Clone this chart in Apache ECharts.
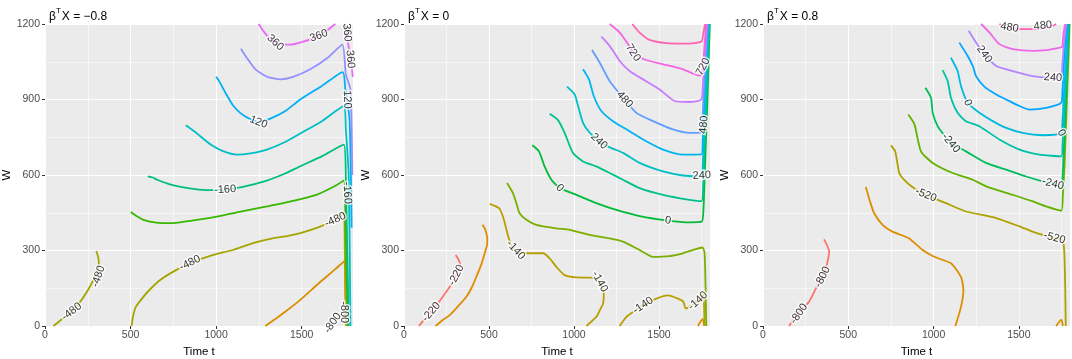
<!DOCTYPE html>
<html><head><meta charset="utf-8">
<script src="https://cdn.jsdelivr.net/npm/echarts/dist/echarts.min.js"></script>
<style>html,body{margin:0;padding:0;background:#fff}#c{width:1072px;height:359px}</style>
</head><body><div id="c"></div>
<script>
// ---------- data ----------
const xTickValues = [0, 500, 1000, 1500];
const panelTitles = ['−0.8', '0', '0.8'];

// Panel 1 (beta'X = -0.8)
const p1Colors = ['#A3A500','#D89000','#A3A500','#39B600','#00BF7D','#00BFC4','#00B0F6','#9590FF','#E76BF3','#E76BF3'];
const p1Lines = [
  [[49,0],[100,28],[156,57],[210,100],[263,157],[295,200],[315,240],[312,270],[300,298]],
  [[1287,0],[1400,55],[1492,104],[1600,170],[1700,228],[1750,258],[1754,130],[1758,0]],
  [[507,0],[512,30],[530,75],[575,116],[620,150],[673,183],[760,220],[848,250],[970,280],[1102,303],[1220,330],[1336,349],[1420,358],[1492,369],[1600,393],[1697,422],[1746,448],[1752,300],[1763,0]],
  [[501,453],[540,435],[575,422],[650,411],[751,409],[850,418],[1004,435],[1150,455],[1297,475],[1450,497],[1590,522],[1700,558],[1746,578],[1755,450],[1769,0]],
  [[601,595],[630,590],[653,582],[720,565],[800,552],[900,542],[1000,540],[1053,542],[1150,552],[1297,578],[1400,605],[1492,635],[1620,675],[1746,721],[1757,620],[1775,0]],
  [[823,798],[870,775],[907,754],[970,720],[1040,695],[1121,681],[1200,686],[1297,701],[1400,730],[1500,768],[1620,815],[1746,874],[1758,780],[1775,600],[1785,0]],
  [[1000,990],[1020,970],[1060,920],[1100,875],[1141,847],[1190,825],[1248,810],[1320,825],[1400,852],[1492,900],[1620,955],[1740,1009],[1755,940],[1780,820],[1792,390]],
  [[1145,1102],[1180,1065],[1230,1020],[1300,990],[1375,980],[1450,990],[1550,1020],[1650,1065],[1738,1118],[1758,1000],[1785,940],[1796,600]],
  [[1248,1200],[1290,1160],[1346,1126],[1400,1118],[1434,1118],[1500,1128],[1600,1153],[1660,1180],[1697,1200]],
  [[1752,1200],[1760,1165],[1772,1120],[1787,1060],[1799,990]]
];
const p1Labels = [
  [1346,1126,'360'],[1600,1153,'360'],[1765,1166,'360',-85],[1784,1060,'360',-85],
  [1248,810,'120'],[1766,900,'120',-87],
  [1053,542,'-160'],[1766,529,'-160',-87],
  [848,250,'-480'],[1697,422,'-480'],[312,197,'-480'],[156,57,'-480'],
  [1749,55,'-800',-90],[1682,12,'-800',55]
];

// Panel 2 (beta'X = 0)
const p2Colors = ['#F8766D','#DE8C00','#DE8C00','#B79F00','#B79F00','#7CAE00','#00BA38','#00C08B','#00BFC4','#00B4F0','#619CFF','#C77CFF','#F564E3','#FF64B0'];
const p2Lines = [
  [[88,0],[131,36],[190,82],[249,136],[288,176],[310,205],[331,242],[320,265],[304,282]],
  [[186,0],[230,25],[269,43],[320,80],[367,116],[400,155],[426,196],[455,245],[475,289],[488,320],[490,348],[482,375],[475,388],[461,402]],
  [[1729,0],[1757,28],[1766,0]],
  [[504,485],[559,468],[582,435],[600,390],[622,335],[640,310],[661,295],[720,289],[818,289],[857,269],[896,235],[945,202],[1014,193],[1092,192],[1140,185],[1165,155],[1175,129],[1171,89],[1150,60],[1131,36],[1073,0]],
  [[1269,0],[1308,36],[1347,56],[1406,82],[1484,109],[1553,122],[1612,109],[1643,97],[1657,70],[1690,80],[1730,104],[1760,125],[1766,60],[1768,0]],
  [[606,568],[641,528],[660,490],[680,448],[720,422],[778,402],[896,388],[975,382],[1092,362],[1210,348],[1288,335],[1386,302],[1465,275],[1563,278],[1641,289],[1755,312],[1768,290],[1774,150],[1778,0]],
  [[755,718],[794,694],[827,634],[867,581],[916,548],[1014,521],[1131,488],[1249,461],[1386,437],[1553,419],[1680,412],[1752,415],[1762,470],[1770,620],[1785,900],[1799,1200]],
  [[857,843],[906,818],[945,767],[994,687],[1053,654],[1131,634],[1210,608],[1288,581],[1386,548],[1524,521],[1680,501],[1750,496],[1760,560],[1768,700],[1782,950],[1796,1200]],
  [[959,951],[1004,920],[1024,874],[1053,807],[1090,770],[1147,734],[1210,710],[1288,688],[1386,648],[1524,614],[1641,598],[1750,594],[1758,650],[1766,780],[1780,1000],[1793,1200]],
  [[1053,1020],[1088,980],[1116,914],[1161,854],[1229,814],[1327,774],[1425,734],[1524,701],[1641,681],[1750,682],[1757,740],[1765,860],[1778,1040],[1790,1200]],
  [[1106,1097],[1151,1047],[1210,973],[1288,907],[1367,847],[1465,814],[1582,781],[1680,767],[1745,768],[1755,820],[1763,920],[1774,1060],[1786,1200]],
  [[1161,1150],[1210,1113],[1269,1053],[1327,1013],[1406,980],[1504,940],[1592,894],[1680,890],[1749,900],[1757,950],[1765,1040],[1782,1200]],
  [[1210,1200],[1269,1166],[1318,1120],[1357,1080],[1425,1057],[1524,1040],[1641,1020],[1739,995],[1752,1000],[1762,1060],[1777,1200]],
  [[1343,1200],[1386,1166],[1445,1137],[1543,1124],[1661,1122],[1749,1130],[1760,1160],[1771,1200]]
];
const p2Labels = [
  [161,56,'-220'],[308,202,'-220'],
  [657,302,'-140'],[1151,176,'-140'],[1406,82,'-140'],[1729,100,'-140'],
  [916,548,'0'],[1553,419,'0'],
  [1147,734,'240'],[1752,598,'240',3],
  [1298,900,'480'],[1763,800,'480',85],
  [1347,1086,'720'],[1759,1030,'720',62]
];

// Panel 3 (beta'X = 0.8)
const p3Colors = ['#F8766D','#DB8E00','#DB8E00','#AEA200','#64B200','#00BD5C','#00C1A7','#00BADE','#00A6FF','#B385FF','#EF67EB','#FF63B6'];
const p3Lines = [
  [[153,0],[212,56],[270,96],[329,176],[368,229],[388,295],[358,344]],
  [[603,552],[625,500],[652,448],[701,402],[759,375],[857,348],[936,302],[1004,275],[1102,249],[1161,195],[1175,142],[1161,76],[1128,0]],
  [[1719,0],[1749,25],[1758,0]],
  [[750,718],[775,694],[799,608],[828,581],[880,550],[953,521],[1073,488],[1190,455],[1367,429],[1504,396],[1600,370],[1709,350],[1755,340],[1766,300],[1772,150],[1775,0]],
  [[852,840],[888,801],[926,694],[995,648],[1112,608],[1230,581],[1308,555],[1465,521],[1582,495],[1660,475],[1749,458],[1758,520],[1768,640],[1782,900],[1798,1200]],
  [[952,947],[985,907],[995,847],[1024,794],[1060,760],[1102,727],[1190,694],[1308,648],[1426,621],[1543,594],[1640,575],[1700,565],[1749,548],[1757,600],[1765,720],[1780,960],[1795,1200]],
  [[1053,1017],[1083,973],[1102,907],[1141,847],[1190,814],[1269,794],[1386,741],[1504,701],[1621,681],[1749,674],[1756,720],[1764,820],[1778,1000],[1792,1200]],
  [[1102,1066],[1141,1013],[1161,953],[1200,887],[1269,847],[1347,814],[1426,787],[1523,767],[1641,758],[1749,767],[1756,820],[1764,914],[1775,1060],[1788,1200]],
  [[1151,1126],[1200,1073],[1230,1033],[1249,993],[1298,951],[1367,920],[1426,900],[1504,874],[1563,860],[1660,867],[1749,887],[1756,940],[1763,1033],[1773,1130],[1784,1200]],
  [[1206,1173],[1249,1126],[1298,1080],[1367,1033],[1465,1013],[1582,993],[1700,987],[1749,1000],[1756,1050],[1766,1130],[1779,1200]],
  [[1279,1200],[1328,1166],[1386,1120],[1465,1100],[1582,1093],[1660,1096],[1739,1106],[1754,1110],[1762,1160],[1772,1200]],
  [[1386,1200],[1430,1186],[1465,1182],[1582,1180],[1650,1185],[1700,1193],[1719,1200]]
];
const p3Labels = [
  [211,49,'-800'],[349,195,'-800'],
  [955,521,'-520'],[1709,350,'-520'],
  [1102,727,'-240'],[1700,565,'-240'],
  [1200,887,'0'],[1749,767,'0',-60],
  [1298,1080,'240'],[1700,987,'240'],
  [1445,1186,'480'],[1641,1193,'480']
];

// ---------- chart ----------
const FONT = '"Liberation Sans", Arial, Helvetica, sans-serif';
const panels = [
  {colors: p1Colors, lines: p1Lines, labels: p1Labels, title: panelTitles[0]},
  {colors: p2Colors, lines: p2Lines, labels: p2Labels, title: panelTitles[1]},
  {colors: p3Colors, lines: p3Lines, labels: p3Labels, title: panelTitles[2]}
];
const gridPos = [{left: 45, width: 308}, {left: 404, width: 306}, {left: 763, width: 307}];
const GRID_TOP = 24, GRID_H = 302;
const plain = v => String(v);

const chart = echarts.init(document.getElementById('c'), null, {renderer: 'canvas'});

const mainX = gridPos.map((g, i) => ({
  type: 'value', gridIndex: i, min: 0, max: 1800, interval: 500, position: 'bottom',
  name: 'Time t', nameLocation: 'middle', nameGap: 13,
  nameTextStyle: {color: '#000', fontSize: 11.5, fontFamily: FONT},
  axisLine: {show: false},
  axisTick: {show: true, length: 3, customValues: xTickValues, lineStyle: {color: '#333333', width: 1}},
  axisLabel: {color: '#4D4D4D', fontSize: 10.5, fontFamily: FONT, margin: 4, customValues: xTickValues, formatter: plain},
  splitLine: {show: true, showMaxLine: false, lineStyle: {color: '#FFFFFF', width: 1.1}}
}));
const minorX = gridPos.map((g, i) => ({
  type: 'value', gridIndex: i, min: 0, max: 1800, interval: 250, position: 'top',
  axisLine: {show: false}, axisTick: {show: false}, axisLabel: {show: false},
  splitLine: {show: true, showMaxLine: false, lineStyle: {color: '#FFFFFF', width: 0.55}}
}));
const yAxes = gridPos.map((g, i) => ({
  type: 'value', gridIndex: i, min: 0, max: 1200, interval: 300,
  name: 'W', nameLocation: 'middle', nameGap: 31,
  nameTextStyle: {color: '#000', fontSize: 11.5, fontFamily: FONT},
  axisLine: {show: false},
  axisTick: {show: true, length: 3, lineStyle: {color: '#333333', width: 1}},
  axisLabel: {color: '#4D4D4D', fontSize: 10.5, fontFamily: FONT, margin: 5, formatter: plain},
  splitLine: {show: true, lineStyle: {color: '#FFFFFF', width: 1.1}},
  minorTick: {show: false, splitNumber: 2},
  minorSplitLine: {show: true, lineStyle: {color: '#FFFFFF', width: 0.55}}
}));

const series = [];
panels.forEach((p, i) => {
  p.lines.forEach((ln, k) => {
    series.push({
      type: 'line', xAxisIndex: i, yAxisIndex: i, data: ln,
      showSymbol: false, symbol: 'none', smooth: 0.2, silent: true, clip: true,
      lineStyle: {color: p.colors[k], width: 1.8}, z: 2
    });
  });
  series.push({
    id: 'lab' + i, type: 'scatter', xAxisIndex: i, yAxisIndex: i,
    symbolSize: 1, itemStyle: {color: 'rgba(0,0,0,0)'}, silent: true, z: 5,
    data: p.labels.map(l => ({name: l[2], value: [l[0], l[1]]})),
    label: {show: true, position: 'inside', formatter: '{b}', color: '#000', fontSize: 11,
      fontFamily: FONT, textBorderColor: '#FFFFFF', textBorderWidth: 3}
  });
});

const option = {
  animation: false,
  textStyle: {fontFamily: FONT},
  title: panels.map((p, i) => ({
    text: '{a|β}{s|T}{a|X = ' + p.title + '}',
    left: gridPos[i].left - 1, top: 2,
    textStyle: {fontWeight: 'normal', rich: {
      a: {fontSize: 12, color: '#000', fontWeight: 'normal', fontFamily: FONT, lineHeight: 16, verticalAlign: 'bottom'},
      s: {fontSize: 8, color: '#000', fontWeight: 'normal', fontFamily: FONT, lineHeight: 16, verticalAlign: 'top', padding: [0, 1, 0, 0]}
    }}
  })),
  grid: gridPos.map(g => ({left: g.left, width: g.width, top: GRID_TOP, height: GRID_H,
    show: true, backgroundColor: '#EBEBEB', borderWidth: 0, containLabel: false, outerBoundsMode: 'none'})),
  xAxis: mainX.concat(minorX),
  yAxis: yAxes,
  series: series
};
chart.setOption(option);

// label rotation along the nearest contour segment (pixel space)
function segDist(p, a, b) {
  const dx = b[0] - a[0], dy = b[1] - a[1];
  const L = dx * dx + dy * dy;
  let t = L ? ((p[0] - a[0]) * dx + (p[1] - a[1]) * dy) / L : 0;
  t = Math.max(0, Math.min(1, t));
  const x = a[0] + t * dx, y = a[1] + t * dy;
  return Math.hypot(p[0] - x, p[1] - y);
}
const upd = panels.map((p, i) => {
  const finder = {gridIndex: i};
  const pxLines = p.lines.map(ln => ln.map(pt => chart.convertToPixel(finder, pt)));
  return {
    id: 'lab' + i,
    data: p.labels.map(l => {
      let rot;
      if (l.length > 3) rot = l[3];
      else {
        const q = chart.convertToPixel(finder, [l[0], l[1]]);
        let best = Infinity, ang = 0;
        pxLines.forEach(pl => {
          for (let j = 0; j < pl.length - 1; j++) {
            const d = segDist(q, pl[j], pl[j + 1]);
            if (d < best) {
              best = d;
              ang = Math.atan2(-(pl[j + 1][1] - pl[j][1]), pl[j + 1][0] - pl[j][0]) * 180 / Math.PI;
            }
          }
        });
        if (ang > 90) ang -= 180;
        if (ang <= -90) ang += 180;
        rot = ang;
      }
      return {name: l[2], value: [l[0], l[1]], label: {rotate: rot}};
    })
  };
});
chart.setOption({series: upd});
</script>
</body></html>
